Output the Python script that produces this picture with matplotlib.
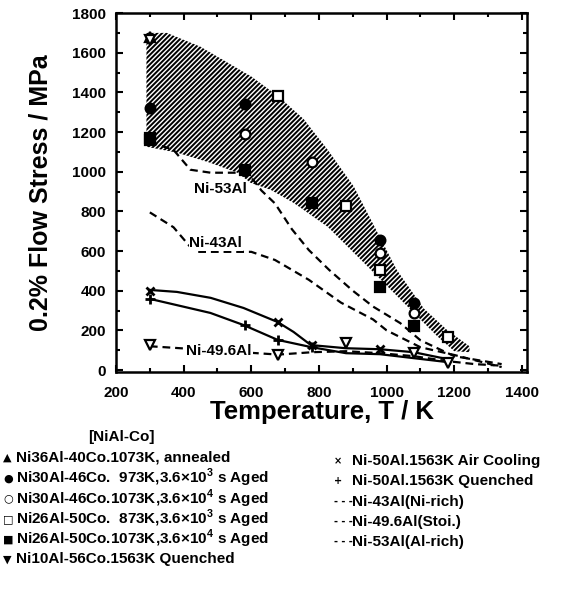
import matplotlib
matplotlib.use('Agg')
import matplotlib.pyplot as plt
from matplotlib.ticker import MultipleLocator

plt.rcParams['font.family'] = ['Liberation Sans', 'DejaVu Sans']
plt.rcParams['font.weight'] = 'bold'
plt.rcParams['mathtext.fontset'] = 'custom'
plt.rcParams['mathtext.rm'] = 'Liberation Sans:bold'
plt.rcParams['mathtext.bf'] = 'Liberation Sans:bold'
plt.rcParams['hatch.linewidth'] = 1.4

# hatched band of NiAl-Co data
band_upper_T = [290, 350, 450, 600, 680, 755, 826, 903, 974, 1030, 1110, 1180, 1245]
band_upper_s = [1700, 1700, 1630, 1480, 1380, 1265, 1110, 925, 690, 505, 310, 200, 120]
band_lower_T = [1245, 1200, 1150, 1072, 924, 826, 725, 657, 598, 559, 479, 381, 290]
band_lower_s = [90, 95, 170, 303, 556, 722, 843, 909, 944, 995, 1045, 1096, 1126]

# dashed reference curves
ni53_T = [300, 370, 420, 480, 560, 605, 630, 670, 720, 770, 830, 900, 960, 1040, 1100, 1200, 1340]
ni53_s = [1150, 1110, 1010, 995, 995, 960, 905, 840, 710, 605, 505, 400, 320, 237, 150, 70, 30]
ni43_T = [300, 370, 420, 440, 600, 670, 770, 865, 960, 1000, 1100, 1200, 1340]
ni43_s = [795, 720, 620, 596, 596, 555, 455, 340, 255, 200, 115, 76, 15]
ni496_T = [300, 680, 780, 880, 980, 1080, 1180, 1260, 1340]
ni496_s = [120, 78, 90, 95, 85, 70, 45, 30, 22]

# Ni-50Al solid curves
air_T = [300, 380, 480, 577, 678, 725, 776, 880, 980, 1080, 1180]
air_s = [404, 394, 364, 313, 242, 192, 126, 110, 105, 90, 55]
air_mk_T = [300, 680, 780, 980]
air_mk_s = [400, 240, 125, 105]
que_T = [300, 479, 577, 678, 776, 880, 980, 1080, 1180]
que_s = [359, 288, 227, 152, 116, 85, 80, 60, 40]
que_mk_T = [300, 580, 680, 780]
que_mk_s = [359, 227, 152, 116]

# NiAl-Co markers
tri_up_T, tri_up_s = [300], [1680]
fcirc_T, fcirc_s = [300, 580, 980, 1080], [1320, 1340, 655, 340]
ocirc_T, ocirc_s = [580, 780, 980, 1080], [1190, 1050, 590, 290]
osq_T, osq_s = [300, 680, 880, 980, 1180], [1170, 1380, 825, 505, 165]
fsq_T, fsq_s = [300, 580, 780, 980, 1080], [1160, 1010, 840, 420, 220]
tri_dn_T = [300, 300, 680, 880, 1080, 1180]
tri_dn_s = [1665, 125, 78, 138, 88, 35]

fig = plt.figure(figsize=(5.67, 6.02), dpi=100)
ax = fig.add_axes([0.2046, 0.382, 0.7249, 0.5963])

poly_T = band_upper_T + band_lower_T
poly_s = band_upper_s + band_lower_s
ax.fill(poly_T, poly_s, facecolor='white', edgecolor='black', hatch='///////', linewidth=0)

dash = (0, (3.5, 2.2))
ax.plot(ni53_T, ni53_s, color='black', lw=1.6, linestyle=dash)
ax.plot(ni43_T, ni43_s, color='black', lw=1.6, linestyle=dash)
ax.plot(ni496_T, ni496_s, color='black', lw=1.6, linestyle=dash)
ax.plot(air_T, air_s, color='black', lw=1.6)
ax.plot(que_T, que_s, color='black', lw=1.6)
ax.plot(air_mk_T, air_mk_s, 'x', color='black', ms=6, mew=2)
ax.plot(que_mk_T, que_mk_s, '+', color='black', ms=7, mew=2)

mk = dict(color='black', ms=7, mew=1.6, linestyle='none')
ax.plot(tri_up_T, tri_up_s, '^', mfc='white', **mk)
ax.plot(fcirc_T, fcirc_s, 'o', mfc='black', **mk)
ax.plot(ocirc_T, ocirc_s, 'o', mfc='white', **mk)
ax.plot(osq_T, osq_s, 's', mfc='white', **mk)
ax.plot(fsq_T, fsq_s, 's', mfc='black', **mk)
ax.plot(tri_dn_T, tri_dn_s, 'v', mfc='white', **mk)

lbl = dict(fontsize=11, fontweight='bold', ha='center', va='center',
           bbox=dict(facecolor='white', edgecolor='none', pad=0.5))
ax.text(510, 915, 'Ni-53Al', **lbl)
ax.text(495, 640, 'Ni-43Al', **lbl)
ax.text(505, 95, 'Ni-49.6Al', **lbl)

ax.set_xlim(200, 1415)
ax.set_ylim(-10, 1800)
ax.xaxis.set_major_locator(MultipleLocator(200))
ax.xaxis.set_minor_locator(MultipleLocator(100))
ax.yaxis.set_major_locator(MultipleLocator(200))
ax.yaxis.set_minor_locator(MultipleLocator(100))
ax.tick_params(which='both', direction='in', top=True, right=True, width=1.5)
ax.tick_params(which='major', length=5, labelsize=11, pad=7)
ax.tick_params(which='minor', length=3)
ax.tick_params(axis='x', which='major', pad=10)
for lab in ax.get_xticklabels() + ax.get_yticklabels():
    lab.set_fontweight('bold')
for sp in ax.spines.values():
    sp.set_linewidth(1.8)

ax.set_xlabel('Temperature, T / K', fontsize=18.5, fontweight='bold', labelpad=0)
ax.set_ylabel('0.2% Flow Stress / MPa', fontsize=18, fontweight='bold', labelpad=14)

# legend block below the axes
H, W = 602.0, 567.0
fs = 11
fig.text(88 / W, 1 - 437 / H, '[NiAl-Co]', fontsize=fs, fontweight='bold', va='center')
left_rows = [
    ('▲', 'Ni36Al-40Co.1073K, annealed'),
    ('●', 'Ni30Al-46Co.  973K,3.6×10$^3$ s Aged'),
    ('○', 'Ni30Al-46Co.1073K,3.6×10$^4$ s Aged'),
    ('□', 'Ni26Al-50Co.  873K,3.6×10$^3$ s Aged'),
    ('■', 'Ni26Al-50Co.1073K,3.6×10$^4$ s Aged'),
    ('▼', 'Ni10Al-56Co.1563K Quenched'),
]
right_rows = [
    ('×', 'Ni-50Al.1563K Air Cooling'),
    ('+', 'Ni-50Al.1563K Quenched'),
    ('- - -', 'Ni-43Al(Ni-rich)'),
    ('- - -', 'Ni-49.6Al(Stoi.)'),
    ('- - -', 'Ni-53Al(Al-rich)'),
]
for i, (sym, txt) in enumerate(left_rows):
    y = 1 - (458 + 20.3 * i) / H
    fig.text(3 / W, y, sym, fontsize=8, va='center', family=['DejaVu Sans'])
    fig.text(16 / W, y, txt, fontsize=fs, fontweight='bold', va='center')
for i, (sym, txt) in enumerate(right_rows):
    y = 1 - (461 + 20.3 * i) / H
    fig.text(334 / W, y, sym, fontsize=7, va='center', fontweight='bold', family=['DejaVu Sans'])
    fig.text(352 / W, y, txt, fontsize=fs, fontweight='bold', va='center')

fig.savefig('out.png', dpi=100)
